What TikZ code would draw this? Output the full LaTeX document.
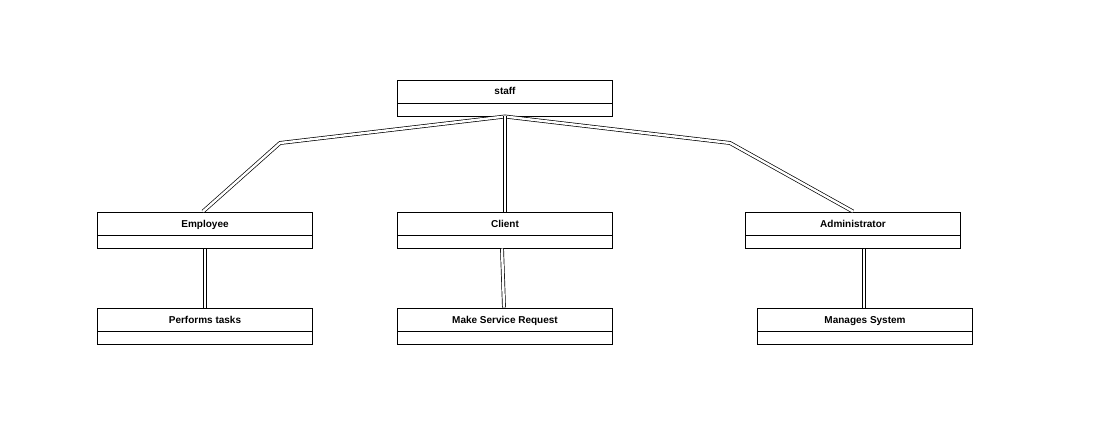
\documentclass[tikz,border=0pt]{standalone}
\usepackage{fontspec}
\setmainfont{Liberation Sans}
\begin{document}
\begin{tikzpicture}[x=1pt,y=-1pt,
  cls/.style={draw, line width=1pt, minimum width=215pt, minimum height=23pt, inner sep=0pt, text height=7.5pt, text depth=1.5pt, anchor=north west, font=\fontsize{10}{12}\selectfont\bfseries},
  sub/.style={draw, line width=1pt, minimum width=215pt, minimum height=13pt, inner sep=0pt, anchor=north west},
  link/.style={double, double distance=2.4pt, line width=0.7pt}]
\useasboundingbox (0,0) rectangle (1099,441);
\node[cls] (staff) at (397,80) {staff};
\node[sub] (staffb) at (397,103) {};
\node[cls] (emp) at (97,212) {Employee};
\node[sub] (empb) at (97,235) {};
\node[cls] (cli) at (397,212) {Client};
\node[sub] (clib) at (397,235) {};
\node[cls] (adm) at (745,212) {Administrator};
\node[sub] (admb) at (745,235) {};
\node[cls] (perf) at (97,308) {Performs tasks};
\node[sub] (perfb) at (97,331) {};
\node[cls] (msr) at (397,308) {Make Service Request};
\node[sub] (msrb) at (397,331) {};
\node[cls] (man) at (757,308) {Manages System};
\node[sub] (manb) at (757,331) {};
\coordinate (s) at (505,116.5);
\coordinate (b1) at (280,143);
\coordinate (b2) at (730,143);
\draw[link] (s) -- (b1) -- (203,211.5);
\draw[link] (s) -- (b2) -- (853,211.5);
\draw[link] (s) -- (cli.north);
\draw[link] (empb.south) -- (perf.north);
\draw[link] (502,248.5) -- (504,307.5);
\draw[link] (864,248.5) -- (864,307.5);
\end{tikzpicture}
\end{document}
